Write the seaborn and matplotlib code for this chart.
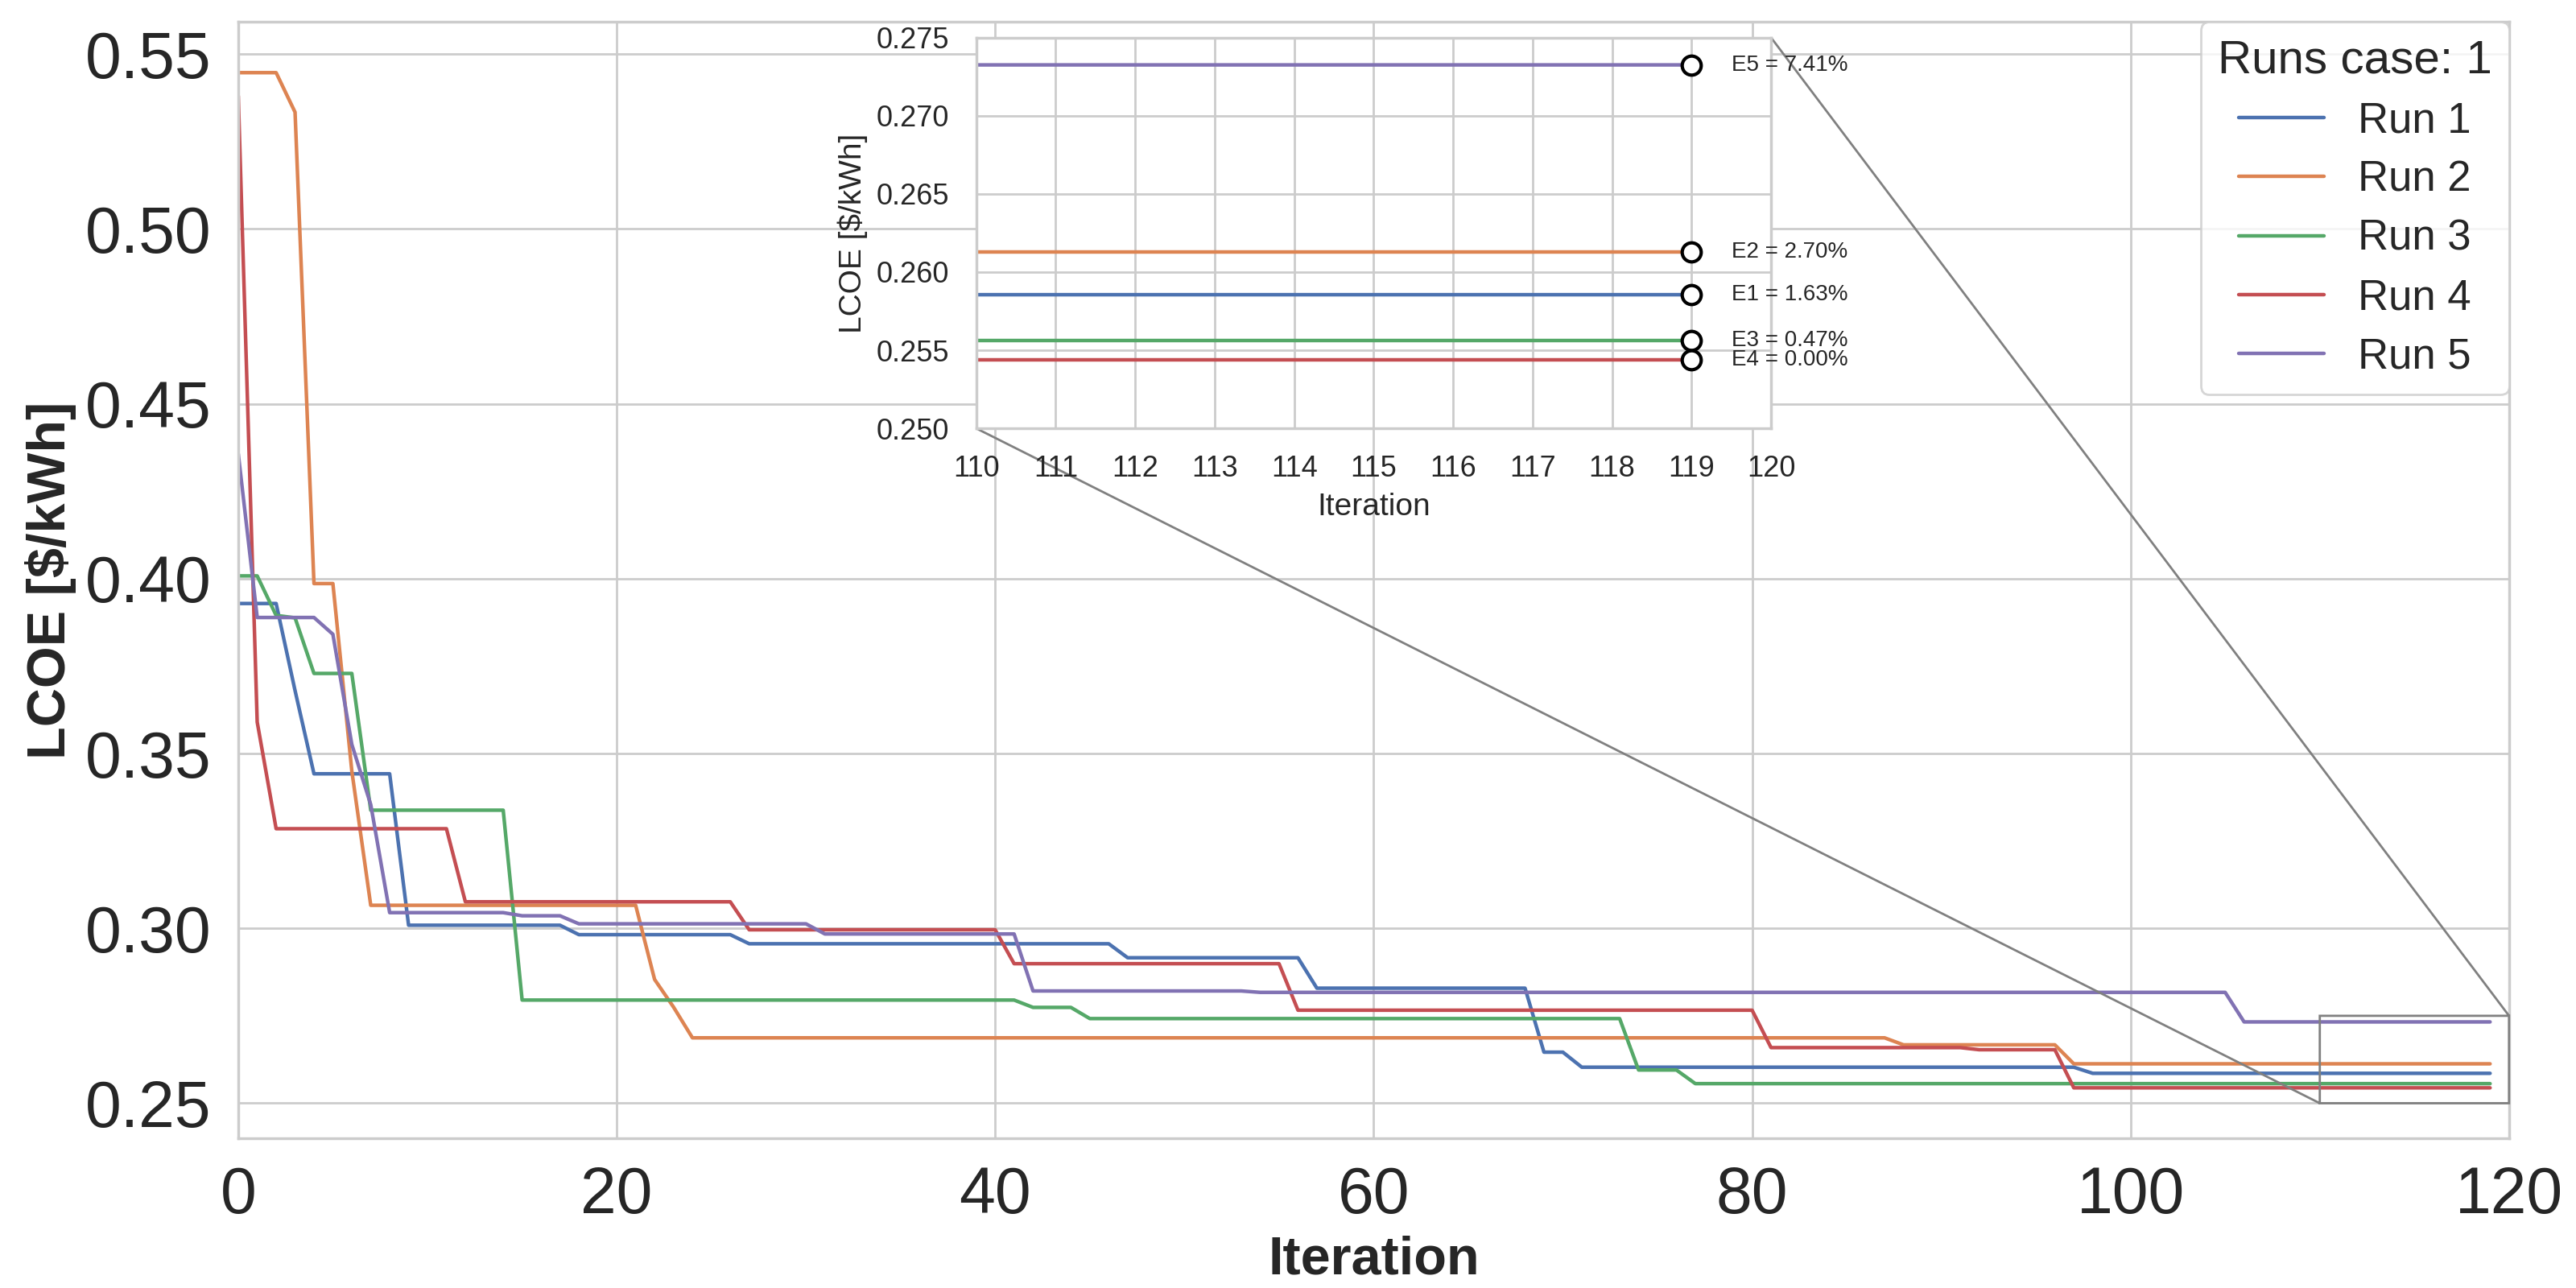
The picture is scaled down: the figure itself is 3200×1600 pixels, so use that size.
import numpy as np
import pandas as pd
import matplotlib
matplotlib.use('Agg')
import matplotlib.pyplot as plt
from matplotlib.ticker import MultipleLocator, FormatStrFormatter
import seaborn as sns

# ---------------- data ----------------
iterations = list(range(120))
run_names = ['Run 1', 'Run 2', 'Run 3', 'Run 4', 'Run 5']

run1 = [
    0.3929, 0.3929, 0.3929, 0.3680, 0.3442, 0.3442, 0.3442, 0.3442, 0.3442, 0.3009,
    0.3009, 0.3009, 0.3009, 0.3009, 0.3009, 0.3009, 0.3009, 0.3009, 0.2982, 0.2982,
    0.2982, 0.2982, 0.2982, 0.2982, 0.2982, 0.2982, 0.2982, 0.2956, 0.2956, 0.2956,
    0.2956, 0.2956, 0.2956, 0.2956, 0.2956, 0.2956, 0.2956, 0.2956, 0.2956, 0.2956,
    0.2956, 0.2956, 0.2956, 0.2956, 0.2956, 0.2956, 0.2956, 0.2916, 0.2916, 0.2916,
    0.2916, 0.2916, 0.2916, 0.2916, 0.2916, 0.2916, 0.2916, 0.2829, 0.2829, 0.2829,
    0.2829, 0.2829, 0.2829, 0.2829, 0.2829, 0.2829, 0.2829, 0.2829, 0.2829, 0.2646,
    0.2646, 0.2603, 0.2603, 0.2603, 0.2603, 0.2603, 0.2603, 0.2603, 0.2603, 0.2603,
    0.2603, 0.2603, 0.2603, 0.2603, 0.2603, 0.2603, 0.2603, 0.2603, 0.2603, 0.2603,
    0.2603, 0.2603, 0.2603, 0.2603, 0.2603, 0.2603, 0.2603, 0.2603, 0.25855, 0.25855,
    0.25855, 0.25855, 0.25855, 0.25855, 0.25855, 0.25855, 0.25855, 0.25855, 0.25855, 0.25855,
    0.25855, 0.25855, 0.25855, 0.25855, 0.25855, 0.25855, 0.25855, 0.25855, 0.25855, 0.25855,
]

run2 = [
    0.5447, 0.5447, 0.5447, 0.5334, 0.3986, 0.3986, 0.3450, 0.3066, 0.3066, 0.3066,
    0.3066, 0.3066, 0.3066, 0.3066, 0.3066, 0.3066, 0.3066, 0.3066, 0.3066, 0.3066,
    0.3066, 0.3066, 0.2854, 0.2775, 0.2687, 0.2687, 0.2687, 0.2687, 0.2687, 0.2687,
    0.2687, 0.2687, 0.2687, 0.2687, 0.2687, 0.2687, 0.2687, 0.2687, 0.2687, 0.2687,
    0.2687, 0.2687, 0.2687, 0.2687, 0.2687, 0.2687, 0.2687, 0.2687, 0.2687, 0.2687,
    0.2687, 0.2687, 0.2687, 0.2687, 0.2687, 0.2687, 0.2687, 0.2687, 0.2687, 0.2687,
    0.2687, 0.2687, 0.2687, 0.2687, 0.2687, 0.2687, 0.2687, 0.2687, 0.2687, 0.2687,
    0.2687, 0.2687, 0.2687, 0.2687, 0.2687, 0.2687, 0.2687, 0.2687, 0.2687, 0.2687,
    0.2687, 0.2687, 0.2687, 0.2687, 0.2687, 0.2687, 0.2687, 0.2687, 0.2667, 0.2667,
    0.2667, 0.2667, 0.2667, 0.2667, 0.2667, 0.2667, 0.2667, 0.26127, 0.26127, 0.26127,
    0.26127, 0.26127, 0.26127, 0.26127, 0.26127, 0.26127, 0.26127, 0.26127, 0.26127, 0.26127,
    0.26127, 0.26127, 0.26127, 0.26127, 0.26127, 0.26127, 0.26127, 0.26127, 0.26127, 0.26127,
]

run3 = [
    0.4008, 0.4008, 0.3895, 0.3888, 0.3729, 0.3729, 0.3729, 0.3338, 0.3338, 0.3338,
    0.3338, 0.3338, 0.3338, 0.3338, 0.3338, 0.2795, 0.2795, 0.2795, 0.2795, 0.2795,
    0.2795, 0.2795, 0.2795, 0.2795, 0.2795, 0.2795, 0.2795, 0.2795, 0.2795, 0.2795,
    0.2795, 0.2795, 0.2795, 0.2795, 0.2795, 0.2795, 0.2795, 0.2795, 0.2795, 0.2795,
    0.2795, 0.2795, 0.2774, 0.2774, 0.2774, 0.2742, 0.2742, 0.2742, 0.2742, 0.2742,
    0.2742, 0.2742, 0.2742, 0.2742, 0.2742, 0.2742, 0.2742, 0.2742, 0.2742, 0.2742,
    0.2742, 0.2742, 0.2742, 0.2742, 0.2742, 0.2742, 0.2742, 0.2742, 0.2742, 0.2742,
    0.2742, 0.2742, 0.2742, 0.2742, 0.2595, 0.2595, 0.2595, 0.2556, 0.2556, 0.2556,
    0.2556, 0.2556, 0.2556, 0.2556, 0.2556, 0.2556, 0.2556, 0.2556, 0.2556, 0.2556,
    0.2556, 0.2556, 0.2556, 0.2556, 0.2556, 0.2556, 0.2556, 0.2556, 0.2556, 0.2556,
    0.2556, 0.2556, 0.2556, 0.2556, 0.2556, 0.2556, 0.2556, 0.2556, 0.2556, 0.2556,
    0.2556, 0.2556, 0.2556, 0.2556, 0.2556, 0.2556, 0.2556, 0.2556, 0.2556, 0.2556,
]

run4 = [
    0.5380, 0.3590, 0.3285, 0.3285, 0.3285, 0.3285, 0.3285, 0.3285, 0.3285, 0.3285,
    0.3285, 0.3285, 0.3076, 0.3076, 0.3076, 0.3076, 0.3076, 0.3076, 0.3076, 0.3076,
    0.3076, 0.3076, 0.3076, 0.3076, 0.3076, 0.3076, 0.3076, 0.2996, 0.2996, 0.2996,
    0.2996, 0.2996, 0.2996, 0.2996, 0.2996, 0.2996, 0.2996, 0.2996, 0.2996, 0.2996,
    0.2996, 0.2899, 0.2899, 0.2899, 0.2899, 0.2899, 0.2899, 0.2899, 0.2899, 0.2899,
    0.2899, 0.2899, 0.2899, 0.2899, 0.2899, 0.2899, 0.2766, 0.2766, 0.2766, 0.2766,
    0.2766, 0.2766, 0.2766, 0.2766, 0.2766, 0.2766, 0.2766, 0.2766, 0.2766, 0.2766,
    0.2766, 0.2766, 0.2766, 0.2766, 0.2766, 0.2766, 0.2766, 0.2766, 0.2766, 0.2766,
    0.2766, 0.2659, 0.2659, 0.2659, 0.2659, 0.2659, 0.2659, 0.2659, 0.2659, 0.2659,
    0.2659, 0.2659, 0.2653, 0.2653, 0.2653, 0.2653, 0.2653, 0.2544, 0.2544, 0.2544,
    0.2544, 0.2544, 0.2544, 0.2544, 0.2544, 0.2544, 0.2544, 0.2544, 0.2544, 0.2544,
    0.2544, 0.2544, 0.2544, 0.2544, 0.2544, 0.2544, 0.2544, 0.2544, 0.2544, 0.2544,
]

run5 = [
    0.4357, 0.3889, 0.3889, 0.3889, 0.3889, 0.3841, 0.3526, 0.3354, 0.3045, 0.3045,
    0.3045, 0.3045, 0.3045, 0.3045, 0.3045, 0.3036, 0.3036, 0.3036, 0.3013, 0.3013,
    0.3013, 0.3013, 0.3013, 0.3013, 0.3013, 0.3013, 0.3013, 0.3013, 0.3013, 0.3013,
    0.3013, 0.2984, 0.2984, 0.2984, 0.2984, 0.2984, 0.2984, 0.2984, 0.2984, 0.2984,
    0.2984, 0.2984, 0.2821, 0.2821, 0.2821, 0.2821, 0.2821, 0.2821, 0.2821, 0.2821,
    0.2821, 0.2821, 0.2821, 0.2821, 0.2817, 0.2817, 0.2817, 0.2817, 0.2817, 0.2817,
    0.2817, 0.2817, 0.2817, 0.2817, 0.2817, 0.2817, 0.2817, 0.2817, 0.2817, 0.2817,
    0.2817, 0.2817, 0.2817, 0.2817, 0.2817, 0.2817, 0.2817, 0.2817, 0.2817, 0.2817,
    0.2817, 0.2817, 0.2817, 0.2817, 0.2817, 0.2817, 0.2817, 0.2817, 0.2817, 0.2817,
    0.2817, 0.2817, 0.2817, 0.2817, 0.2817, 0.2817, 0.2817, 0.2817, 0.2817, 0.2817,
    0.2817, 0.2817, 0.2817, 0.2817, 0.2817, 0.2817, 0.27325, 0.27325, 0.27325, 0.27325,
    0.27325, 0.27325, 0.27325, 0.27325, 0.27325, 0.27325, 0.27325, 0.27325, 0.27325, 0.27325,
]

err_labels = ['E1 = 1.63%', 'E2 = 2.70%', 'E3 = 0.47%', 'E4 = 0.00%', 'E5 = 7.41%']
legend_title = 'Runs case: 1'

# ---------------- styling ----------------
sns.set_theme(style='whitegrid')
plt.rcParams['font.family'] = ['Liberation Sans', 'DejaVu Sans']
plt.rcParams['xtick.major.pad'] = 6
plt.rcParams['ytick.major.pad'] = 6

runs = [run1, run2, run3, run4, run5]
df = pd.DataFrame({
    'Iteration': iterations * len(runs),
    'LCOE': [v for r in runs for v in r],
    'Run': [name for name in run_names for _ in iterations],
})
palette = sns.color_palette('deep', len(run_names))

fig, ax = plt.subplots(figsize=(16, 8), dpi=200)
fig.subplots_adjust(left=0.0925, right=0.974, top=0.983, bottom=0.116)

sns.lineplot(data=df, x='Iteration', y='LCOE', hue='Run', palette=palette,
             ax=ax, linewidth=1.6)
ax.set_xlim(0, 120)
ax.set_xlabel('Iteration', fontsize=24, fontweight='bold', labelpad=4)
ax.set_ylabel(r'LCOE [\$/kWh]', fontsize=24, fontweight='bold')
ax.tick_params(axis='both', labelsize=29)
sns.move_legend(ax, 'upper right', title=legend_title, fontsize=19,
                title_fontsize=21, borderaxespad=0, labelspacing=0.44)

# ---------------- inset ----------------
axins = ax.inset_axes([0.325, 0.636, 0.35, 0.35])
sns.lineplot(data=df, x='Iteration', y='LCOE', hue='Run', palette=palette,
             ax=axins, linewidth=1.6, legend=False)
axins.set_xlim(110, 120)
axins.set_ylim(0.25, 0.275)
axins.xaxis.set_major_locator(MultipleLocator(1))
axins.yaxis.set_major_locator(MultipleLocator(0.005))
axins.yaxis.set_major_formatter(FormatStrFormatter('%.3f'))
axins.tick_params(axis='both', labelsize=13)
axins.set_xlabel('Iteration', fontsize=14)
axins.set_ylabel(r'LCOE [\$/kWh]', fontsize=14)

for vals, lab in zip(runs, err_labels):
    axins.plot(iterations[-1], vals[-1], marker='o', ms=8.5, mfc='white',
               mec='black', mew=1.5, linestyle='none', zorder=5)
    axins.annotate(lab, (iterations[-1], vals[-1]), xytext=(18, 0),
                   textcoords='offset points', va='center', ha='left',
                   fontsize=10, annotation_clip=False)

ax.indicate_inset_zoom(axins, edgecolor='gray', alpha=1, linewidth=1)

fig.savefig('out.png', dpi=200)
